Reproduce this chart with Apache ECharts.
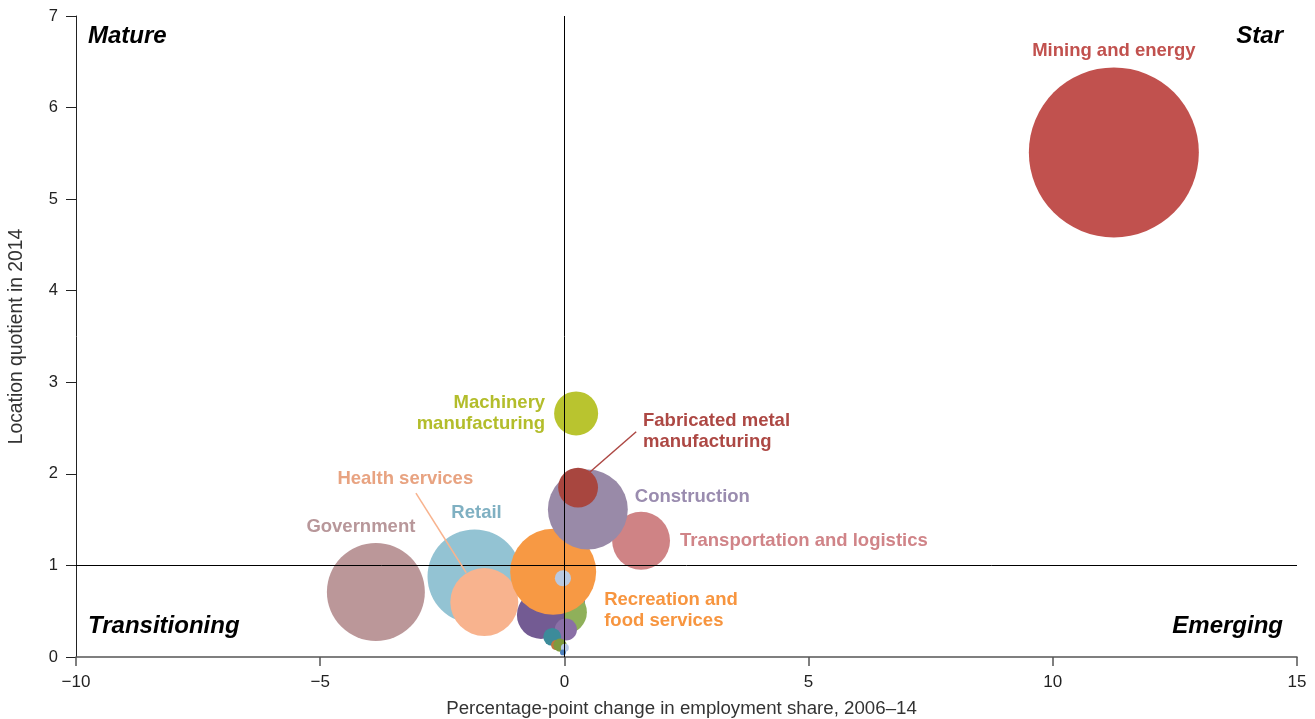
<!DOCTYPE html>
<html>
<head>
<meta charset="utf-8">
<title>Employment share vs. location quotient</title>
<script src="https://cdn.jsdelivr.net/npm/echarts@6/dist/echarts.min.js"></script>
<style>
  html, body { margin: 0; padding: 0; background: #fff; }
  #chart { width: 1315px; height: 719px; }
</style>
</head>
<body>
<div id="chart"></div>
<script>
// Sectors, in drawing order (later entries sit on top)
const sectors = [
  'Mining and energy', 'Government', 'Retail', 'Health services',
  'Transportation and logistics', 'Other 1', 'Other 2', 'Other 3',
  'Recreation and food services', 'Construction', 'Fabricated metal manufacturing',
  'Machinery manufacturing', 'Other 4', 'Other 5', 'Other 6', 'Other 7',
  'Other 8', 'Other 9', 'Other 10'
];
// Percentage-point change in employment share, 2006–14
const shareChange = [
  11.25, -3.86, -1.84, -1.64,
  1.57, -0.09, 0.01, -0.48,
  -0.23, 0.48, 0.28,
  0.24, -0.03, 0.03, -0.25, -0.17,
  -0.09, 0.01, -0.03
];
// Location quotient in 2014
const locationQuotient = [
  5.51, 0.71, 0.88, 0.60,
  1.27, 0.62, 0.49, 0.46,
  0.93, 1.61, 1.85,
  2.66, 0.86, 0.30, 0.22, 0.13,
  0.13, 0.10, 0.05
];
// Relative employment (bubble area)
const employment = [
  100, 33.2, 30.6, 16,
  11.6, 8.65, 6.7, 8,
  25.6, 22.1, 5.5,
  6.7, 0.9, 1.7, 1.1, 0.35,
  0.6, 0.22, 0.12
];
// Axis tick values
const xTicks = [-10, -5, 0, 5, 10, 15];
const yTicks = [0, 1, 2, 3, 4, 5, 6, 7];

const bubbleColors = [
  '#c1514e', '#bb9799', '#93c3d3', '#f8b38e',
  '#cf8385', '#4a6fa5', '#8fb05a', '#735b93',
  '#f79944', '#998aa8', '#a8463f',
  '#b9c42f', '#b9c9e1', '#8a6fa6', '#3c8b9a', '#c0763f',
  '#7f9a3e', '#b8c9e6', '#4f81bd'
];

const labelColors = {
  'Mining and energy': '#c1514e',
  'Government': '#b8979a',
  'Retail': '#7fb0c2',
  'Health services': '#e8a381',
  'Transportation and logistics': '#d08488',
  'Recreation and food services': '#f7953f',
  'Construction': '#9a8caf',
  'Fabricated metal manufacturing': '#ad4844',
  'Machinery manufacturing': '#b3bd2b'
};

const labelPlacement = {
  'Mining and energy': { position: 'top', distance: 6, text: 'Mining and energy' },
  'Government': { position: 'top', distance: 6, offset: [-15, 0], text: 'Government' },
  'Retail': { position: 'top', distance: 6, offset: [2, 0], text: 'Retail' },
  'Health services': { position: 'top', distance: 79, offset: [-79, 0], text: 'Health services' },
  'Transportation and logistics': { position: 'right', distance: 10, text: 'Transportation and logistics' },
  'Recreation and food services': { position: 'right', distance: 8, offset: [0, 39], text: 'Recreation and\nfood services', align: 'left' },
  'Construction': { position: 'right', distance: 7, offset: [0, -13], text: 'Construction' },
  'Fabricated metal manufacturing': { position: 'right', distance: 5, offset: [40, -56], text: 'Fabricated metal\nmanufacturing', align: 'left' },
  'Machinery manufacturing': { position: 'left', distance: 9, text: 'Machinery\nmanufacturing', align: 'right' }
};

const FONT = '"Liberation Sans", Arial, Helvetica, sans-serif';

const points = sectors.map((name, i) => {
  const item = {
    name: name,
    value: [shareChange[i], locationQuotient[i], employment[i]],
    itemStyle: { color: bubbleColors[i], opacity: 1 }
  };
  const lp = labelPlacement[name];
  if (lp) {
    item.label = {
      show: true,
      position: lp.position,
      distance: lp.distance,
      offset: lp.offset || [0, 0],
      formatter: lp.text,
      align: lp.align,
      color: labelColors[name],
      fontFamily: FONT,
      fontWeight: 'bold',
      fontSize: 18.5,
      lineHeight: 21
    };
  }
  return item;
});

// Leader lines from labels to their bubbles (data units)
const leaderLines = [
  { from: [0.50, 2.01], to: [1.47, 2.46], color: '#ad4844' },
  { from: [-3.04, 1.79], to: [-2.01, 0.92], color: '#f8b38e' }
];

const chart = echarts.init(document.getElementById('chart'), null, { renderer: 'canvas' });

const quadrantText = (txt, pos) => Object.assign({
  type: 'text',
  style: {
    text: txt,
    font: 'italic bold 24px ' + FONT,
    fill: '#000'
  }
}, pos);

chart.setOption({
  animation: false,
  backgroundColor: '#fff',
  grid: { left: 76, right: 18, top: 16, bottom: 62, containLabel: false, outerBoundsMode: 'none' },
  xAxis: {
    type: 'value',
    min: xTicks[0],
    max: xTicks[xTicks.length - 1],
    interval: xTicks[1] - xTicks[0],
    name: 'Percentage-point change in employment share, 2006\u201314',
    nameLocation: 'middle',
    nameGap: 42,
    nameTextStyle: { fontFamily: FONT, fontSize: 18.7, color: '#333', padding: [0, 10, 0, 0] },
    axisLine: { show: true, onZero: false, lineStyle: { color: '#555', width: 1.5 } },
    axisTick: { show: true, inside: false, length: 9, lineStyle: { color: '#555', width: 1.5 } },
    axisLabel: {
      margin: 17,
      fontFamily: FONT,
      fontSize: 17,
      color: '#222',
      formatter: v => (v < 0 ? '\u2212' + Math.abs(v) : String(v))
    },
    splitLine: { show: false }
  },
  yAxis: {
    type: 'value',
    min: yTicks[0],
    max: yTicks[yTicks.length - 1],
    interval: yTicks[1] - yTicks[0],
    name: 'Location quotient in 2014',
    nameLocation: 'middle',
    nameGap: 50,
    nameRotate: 90,
    nameTextStyle: { fontFamily: FONT, fontSize: 19.3, color: '#333' },
    axisLine: { show: true, onZero: false, lineStyle: { color: '#222', width: 1 } },
    axisTick: { show: true, inside: false, length: 10, lineStyle: { color: '#222', width: 1 } },
    axisLabel: { margin: 18, fontFamily: FONT, fontSize: 16.5, color: '#222' },
    splitLine: { show: false }
  },
  graphic: [
    quadrantText('Mature', { left: 88, top: 24 }),
    quadrantText('Star', { right: 32, top: 24 }),
    quadrantText('Transitioning', { left: 88, top: 614 }),
    quadrantText('Emerging', { right: 32, top: 614 })
  ],
  series: [
    {
      type: 'scatter',
      data: points,
      symbol: 'circle',
      symbolSize: v => 17 * Math.sqrt(v[2]),
      emphasis: { disabled: true },
      silent: true,
      z: 3,
      label: { show: false }
    },
    {
      // Quadrant dividers
      type: 'line',
      data: [],
      silent: true,
      z: 2,
      markLine: {
        silent: true,
        symbol: ['none', 'none'],
        label: { show: false },
        lineStyle: { color: '#000', width: 1, type: 'solid' },
        data: [
          { xAxis: 0 },
          { yAxis: 1 }
        ]
      }
    },
    {
      // Label leader lines
      type: 'line',
      data: [],
      silent: true,
      z: 4,
      markLine: {
        silent: true,
        symbol: ['none', 'none'],
        label: { show: false },
        data: leaderLines.map(l => [
          { coord: l.from, lineStyle: { color: l.color, width: 1.5, type: 'solid' } },
          { coord: l.to }
        ])
      }
    }
  ]
});
</script>
</body>
</html>
